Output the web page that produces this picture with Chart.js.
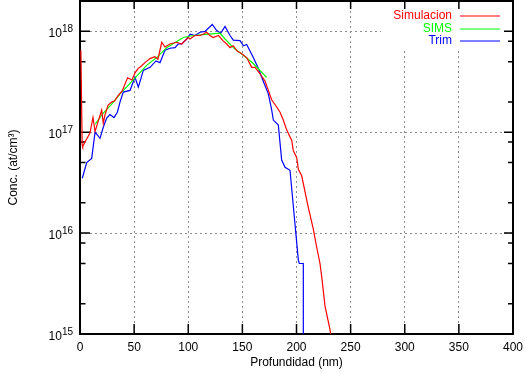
<!DOCTYPE html>
<html>
<head>
<meta charset="utf-8">
<script src="https://cdn.jsdelivr.net/npm/chart.js@4.4.0/dist/chart.umd.min.js"></script>
<style>
  html, body { margin: 0; padding: 0; background: #fff; }
  #chart { display: block; }
</style>
</head>
<body>
<canvas id="chart" width="524" height="372"></canvas>
<script>
// Profundidad (nm) vs concentracion (at/cm3)
const simDepth = [0.8, 2.0, 2.5, 4.6, 9.2, 12, 13.9, 16.6, 20, 21.5, 23, 26, 29.5, 32, 35, 39, 41.5, 44, 48, 51,
  53.6, 57, 60, 64.7, 69, 72, 75.5, 78.5, 83, 89, 94, 97, 100, 101.6, 106, 111, 114, 117, 120, 123,
  128, 132, 135.5, 138.6, 141.6, 145, 149.4, 154, 158.6, 161.7, 166.3, 171, 174, 177, 181.7, 184.8, 187.8, 191, 195.6, 197,
  200.2, 201.7, 204.8, 210.9, 215.5, 218.7, 221.7, 223.3, 226.3, 231, 232];
const simConc = [6.5e17, 7.5e16, 7.2e16, 8.0e16, 9.8e16, 1.4e17, 1.02e17, 1.26e17, 1.66e17, 1.23e17, 1.48e17, 1.86e17, 2.0e17, 2.04e17, 2.3e17, 2.57e17, 3.0e17, 3.47e17, 3.3e17, 3.9e17,
  4.27e17, 4.57e17, 4.9e17, 5.37e17, 5.6e17, 5.3e17, 7.8e17, 7.0e17, 7.5e17, 7.8e17, 7.5e17, 8.1e17, 8.7e17, 8.4e17, 9.1e17, 9.1e17, 9.4e17, 9.8e17, 9.1e17, 8.7e17,
  9.1e17, 8.1e17, 7.5e17, 6.9e17, 7.2e17, 6.4e17, 6.0e17, 5.5e17, 4.4e17, 4.4e17, 3.8e17, 3.2e17, 2.6e17, 2.1e17, 1.78e17, 1.58e17, 1.32e17, 1.05e17, 8.3e16, 6.6e16,
  5.6e16, 4.3e16, 3.7e16, 1.8e16, 1.1e16, 7.2e15, 5.0e15, 3.7e15, 1.9e15, 1.1e15, 9.0e14];

const simsDepth = [13.9, 21.5, 29.3, 37, 44.3, 52.4, 61.6, 70.8, 80, 95.4, 104.7, 113.9, 129.3, 134, 141.6, 150.9, 160.1, 172.4];
const simsConc = [1.2e17, 1.55e17, 1.9e17, 2.4e17, 2.9e17, 3.6e17, 4.6e17, 5.5e17, 6.9e17, 8.7e17, 9.1e17, 9.3e17, 9.6e17, 8.4e17, 6.9e17, 5.8e17, 4.8e17, 3.5e17];

const trimDepth = [2.1, 6.2, 10.8, 13.9, 18.5, 21.5, 24.6, 27.7, 31.4, 34.5, 37, 40, 46.2, 50.8, 53.9, 58.5, 64.7, 70.2, 73.9, 78.5,
  83.1, 87.8, 90.8, 94, 98.6, 101.6, 106.2, 110.9, 115.5, 122.2, 126.3, 130, 134, 138.6, 141.6, 147.8, 151, 154, 160.1, 164.7,
  169.3, 174, 177.1, 178.6, 183.2, 186.3, 189.4, 194, 201.7, 202.6, 206.3, 206.3];
const trimConc = [3.5e16, 5.0e16, 5.5e16, 1.0e17, 8.7e16, 1.12e17, 1.38e17, 1.5e17, 1.4e17, 1.58e17, 2.0e17, 2.5e17, 2.6e17, 3.5e17, 2.8e17, 4.1e17, 4.4e17, 5.1e17, 4.9e17, 6.5e17,
  6.8e17, 6.9e17, 7.5e17, 7.5e17, 8.4e17, 9.4e17, 9.1e17, 9.8e17, 1.0e18, 1.17e18, 1.02e18, 9.6e17, 1.12e18, 9.1e17, 8.2e17, 8.1e17, 7.2e17, 7.4e17, 5.5e17, 4.3e17,
  3.2e17, 2.4e17, 1.66e17, 1.32e17, 1.18e17, 5.3e16, 4.5e16, 4.2e16, 5.4e15, 5.0e15, 5.0e15, 1e14];

const yMajor = [1e15, 1e16, 1e17, 1e18];
const yMinorFactors = [2, 5, 8];

const FONT = '"Liberation Sans", Arial, Helvetica, sans-serif';

function pts(xs, ys) {
  return xs.map((x, i) => ({ x: x, y: ys[i] }));
}

// gnuplot look: frame, inward ticks, 10^n labels, key on the right
const gnuplotStyle = {
  id: 'gnuplotStyle',
  beforeDatasetsDraw(chart) {
    const { ctx, chartArea: a } = chart;
    const xs = chart.scales.x, ys = chart.scales.y;
    ctx.save();
    // key area has no grid
    ctx.fillStyle = '#fff';
    ctx.fillRect(a.right - 132, a.top + 1, 131, 46);

    // ticks
    ctx.strokeStyle = '#000';
    ctx.lineWidth = 1.5;
    ctx.beginPath();
    xs.ticks.forEach(t => {
      const px = xs.getPixelForValue(t.value);
      ctx.moveTo(px, a.bottom); ctx.lineTo(px, a.bottom - 10);
      ctx.moveTo(px, a.top); ctx.lineTo(px, a.top + 8);
    });
    yMajor.forEach(v => {
      const py = ys.getPixelForValue(v);
      ctx.moveTo(a.left, py); ctx.lineTo(a.left + 10, py);
      ctx.moveTo(a.right, py); ctx.lineTo(a.right - 9, py);
      yMinorFactors.forEach(f => {
        const mv = v * f;
        if (mv > ys.max) return;
        const my = ys.getPixelForValue(mv);
        ctx.moveTo(a.left, my); ctx.lineTo(a.left + 5.5, my);
        ctx.moveTo(a.right, my); ctx.lineTo(a.right - 5, my);
      });
    });
    ctx.stroke();

    // frame (data is drawn over it, as gnuplot does)
    ctx.lineWidth = 2;
    ctx.strokeRect(a.left, a.top, a.right - a.left, a.bottom - a.top);
    ctx.restore();
  },
  afterDraw(chart) {
    const { ctx, chartArea: a } = chart;
    const ys = chart.scales.y;
    ctx.save();

    // y labels 10^n
    ctx.fillStyle = '#000';
    ctx.textAlign = 'right';
    ctx.textBaseline = 'alphabetic';
    yMajor.forEach(v => {
      const py = ys.getPixelForValue(v);
      const sup = String(Math.round(Math.log10(v)));
      ctx.font = '10px ' + FONT;
      const w = ctx.measureText(sup).width;
      ctx.fillText(sup, a.left - 7, py + 0.5);
      ctx.font = '12px ' + FONT;
      ctx.fillText('10', a.left - 7 - w, py + 5.5);
    });

    // axis titles
    ctx.font = '12px ' + FONT;
    ctx.textAlign = 'center';
    ctx.textBaseline = 'middle';
    ctx.fillText('Profundidad (nm)', (a.left + a.right) / 2, 363);
    ctx.save();
    ctx.translate(14, (a.top + a.bottom) / 2);
    ctx.rotate(-Math.PI / 2);
    ctx.fillText('Conc. (at/cm\u00B3)', 0, 0);
    ctx.restore();

    // key
    chart.data.datasets.forEach((ds, i) => {
      const ky = a.top + 15 + i * 12.5;
      ctx.fillStyle = ds.borderColor;
      ctx.textAlign = 'right';
      ctx.fillText(ds.label, a.right - 61, ky);
      ctx.strokeStyle = ds.borderColor;
      ctx.lineWidth = 1.2;
      ctx.beginPath();
      ctx.moveTo(a.right - 53, Math.round(ky));
      ctx.lineTo(a.right - 13, Math.round(ky));
      ctx.stroke();
    });

    ctx.restore();
  }
};

const ctx = document.getElementById('chart').getContext('2d');
new Chart(ctx, {
  type: 'line',
  data: {
    datasets: [
      { label: 'Simulacion', data: pts(simDepth, simConc), borderColor: '#ff0000' },
      { label: 'SIMS', data: pts(simsDepth, simsConc), borderColor: '#00ff00' },
      { label: 'Trim', data: pts(trimDepth, trimConc), borderColor: '#0000ff' }
    ]
  },
  options: {
    responsive: false,
    animation: false,
    devicePixelRatio: 1,
    layout: { padding: { top: 1, right: 11, left: 0, bottom: 0 } },
    elements: {
      point: { radius: 0 },
      line: { borderWidth: 1.2, tension: 0, fill: false }
    },
    plugins: {
      legend: { display: false },
      tooltip: { enabled: false }
    },
    scales: {
      x: {
        type: 'linear',
        min: 0,
        max: 400,
        ticks: {
          stepSize: 50,
          color: '#000',
          padding: 6,
          maxRotation: 0,
          font: { family: FONT, size: 12 }
        },
        grid: {
          drawTicks: false,
          color: c => (c.tick && (c.tick.value === 0 || c.tick.value === 400)) ? 'rgba(0,0,0,0)' : '#8c8c8c',
          lineWidth: 1
        },
        border: { display: false, dash: [2, 3] },
        afterFit: s => { s.height = 38; s.paddingLeft = 0; s.paddingRight = 0; }
      },
      y: {
        type: 'logarithmic',
        min: 1e15,
        max: 2e18,
        afterBuildTicks: s => { s.ticks = yMajor.map(v => ({ value: v })); },
        ticks: { display: false },
        grid: {
          drawTicks: false,
          color: '#8c8c8c',
          lineWidth: 1
        },
        border: { display: false, dash: [2, 3] },
        afterFit: s => { s.width = 80; }
      }
    }
  },
  plugins: [gnuplotStyle]
});
</script>
</body>
</html>
